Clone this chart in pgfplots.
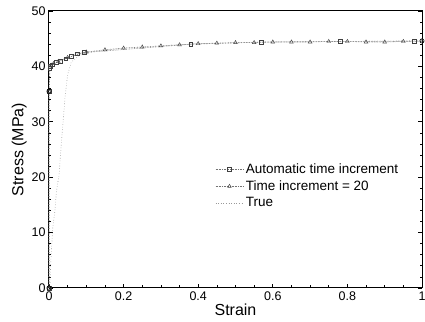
\documentclass[border=0pt]{standalone}
\usepackage{pgfplots}
\pgfplotsset{compat=1.18}
\usepackage{fontspec}
\setmainfont{Liberation Sans}
\begin{document}
\begin{tikzpicture}
\begin{axis}[
  scale only axis,
  width=373pt, height=277pt,
  xmin=0, xmax=1, ymin=0, ymax=50,
  xtick={0,0.2,0.4,0.6,0.8,1},
  xticklabels={0,0.2,0.4,0.6,0.8,1},
  ytick={0,10,20,30,40,50},
  minor x tick num=3,
  minor y tick num=4,
  tick align=inside,
  xtick pos=bottom,
  ytick pos=both,
  major tick length=4pt,
  minor tick length=2.5pt,
  axis line style={line width=1pt},
  tick style={black, line width=0.7pt},
  /pgf/number format/assume math mode=true,
  ticklabel style={font=\fontsize{12.5}{14}\selectfont},
  xlabel={Strain}, ylabel={Stress (MPa)},
  label style={font=\fontsize{16}{18}\selectfont},
  xlabel style={yshift=3pt},
  ylabel style={yshift=-2pt},
  legend style={at={(0.437,0.463)}, anchor=north west, draw=none, fill=none,
    font=\fontsize{13.5}{15}\selectfont, row sep=1.5pt,
    legend cell align=left},
  legend image code/.code={
    \draw[mark repeat=2,mark phase=2,#1] plot coordinates {(0pt,0pt) (14pt,0pt) (28pt,0pt)};
  },
  clip=false,
]
\addplot[black!55, densely dotted, line width=0.6pt, mark=square, mark size=1.9pt,
  mark options={solid, black!75, line width=0.45pt}] coordinates {
  (0,0) (0,35.5) (0.002,39.6) (0.004,40.0) (0.008,40.3) (0.02,40.7) (0.03,41.0)
  (0.045,41.4) (0.06,41.8) (0.075,42.3) (0.095,42.5)
  (0.38,44.0) (0.57,44.4) (0.78,44.5) (0.98,44.6)
};
\addlegendentry{Automatic time increment}
\addplot[black!55, densely dotted, line width=0.6pt, mark=triangle, mark size=2.1pt,
  mark options={solid, black!75, line width=0.45pt}] coordinates {
  (0,0) (0,35.5) (0.003,39.8) (0.006,40.2) (0.012,40.5) (0.025,40.9) (0.05,41.6)
  (0.1,42.6) (0.15,43.0) (0.2,43.3) (0.25,43.5) (0.3,43.7) (0.35,43.9)
  (0.4,44.1) (0.45,44.2) (0.5,44.3) (0.55,44.3) (0.6,44.4) (0.65,44.4)
  (0.7,44.4) (0.75,44.5) (0.8,44.5) (0.85,44.4) (0.9,44.4) (0.95,44.5) (1.0,44.6)
};
\addlegendentry{Time increment = 20}
\addplot[black!40, dotted, line width=0.6pt] coordinates {
  (0.002,0) (0.005,5) (0.01,10.8) (0.016,14) (0.02,17.5) (0.027,20.4)
  (0.033,26) (0.037,29.4) (0.04,31.8) (0.043,34.5) (0.05,38.5) (0.06,40.8)
  (0.08,41.9) (0.1,42.5) (0.2,43.3) (0.4,44.1) (0.6,44.4) (0.8,44.5) (1.0,44.5)
};
\addlegendentry{True}
\addplot[only marks, mark=o, mark size=2.2pt, black, line width=0.5pt] coordinates {
  (0,0) (0,35.5) (1.0,44.6)
};
\end{axis}
\pgfresetboundingbox
\useasboundingbox ([xshift=-49pt,yshift=-34pt]current axis.south west) rectangle ([xshift=3pt,yshift=11pt]current axis.north east);
\end{tikzpicture}
\end{document}
